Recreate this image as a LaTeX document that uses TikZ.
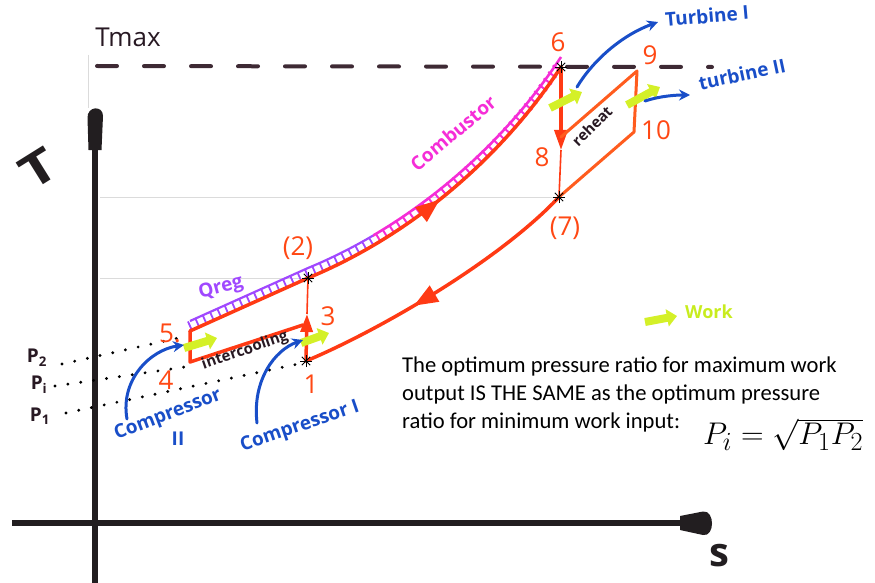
\documentclass[tikz,border=0pt]{standalone}
\usepackage{fontspec}
\newfontfamily\carlito{Carlito}
\newfontfamily\hand{Open Sans}
\usetikzlibrary{arrows.meta,decorations.markings,decorations.pathreplacing}
\definecolor{redline}{RGB}{255,58,20}
\definecolor{orline}{RGB}{255,92,30}
\definecolor{numcol}{RGB}{255,72,20}
\definecolor{axiscol}{RGB}{34,30,32}
\definecolor{dashcol}{RGB}{62,42,52}
\definecolor{bluec}{RGB}{25,78,200}
\definecolor{violetc}{RGB}{160,72,255}
\definecolor{magc}{RGB}{245,45,215}
\definecolor{workc}{RGB}{212,240,40}
\definecolor{worktext}{RGB}{200,236,30}
\definecolor{inkc}{RGB}{40,25,35}
\begin{document}
\begin{tikzpicture}[x=1pt,y=-1pt,
  mainline/.style={draw=redline, line width=3.5pt, line cap=round, line join=round},
  thinline/.style={draw=redline, line width=1.6pt},
  orangeline/.style={draw=orline, line width=3pt, line cap=round, line join=round},
  numlabel/.style={text=numcol, font=\hand\fontsize{26}{26}\selectfont, inner sep=0pt},
  bluearrow/.style={draw=bluec, line width=3pt, line cap=round, -{Stealth[length=11pt,width=11pt]}},
  bluetext/.style={text=bluec, font=\hand\bfseries\fontsize{19}{19}\selectfont, inner sep=0pt},
  workarrow/.style={draw=workc, line width=8pt, -{Triangle[length=10pt,width=17pt]}},
  dotline/.style={draw=black, line width=3.2pt, line cap=round, dash pattern=on 0pt off 13pt},
  inktext/.style={text=inkc, font=\hand\bfseries\fontsize{15}{15}\selectfont, inner sep=0pt},
  axisline/.style={draw=axiscol, line width=6.5pt},
  faint/.style={draw=black!14, line width=1pt},
  plabel/.style={text=inkc, font=\hand\bfseries\fontsize{19}{19}\selectfont, inner sep=0pt},
  bodytext/.style={font=\carlito\fontsize{22.6}{26}\selectfont, anchor=base west, inner sep=0pt},
  midarrow/.style={postaction={decorate}, decoration={markings, mark=at position #1 with {\arrow{Triangle[length=24pt,width=18pt]}}}}
]
\useasboundingbox (0,0) rectangle (875,583);

% faint paper marks
\draw[faint] (88,55) -- (88,108);
\draw[faint] (100,197) -- (555,197);
\draw[faint] (100,278) -- (300,278);

% state points
\coordinate (p1) at (306,361);
\coordinate (q1) at (307,314);
\coordinate (p2) at (308,278);
\coordinate (p3) at (303,325);
\coordinate (p4) at (190,362);
\coordinate (p5) at (190,331);
\coordinate (p6) at (561,67);
\coordinate (q6) at (561,150);
\coordinate (p8) at (561,137);
\coordinate (p7) at (559,197);
\coordinate (p9) at (637,71);
\coordinate (p10) at (634,132);

% axes
\draw[axisline] (95,583) -- (95,140);
\fill[axiscol] (88.5,150) -- (87.5,118) .. controls (87,106) and (103,105) .. (103,116) -- (101.5,150) -- cycle;
\draw[axisline] (12,523) -- (690,523);
\fill[axiscol] (680,516) -- (703,511.5) .. controls (715,510) and (715,537) .. (703,535) -- (680,530) -- cycle;

% Tmax dashed line
\draw[dashcol, line width=4pt, line cap=round, dash pattern=on 20pt off 27pt] (97,66) -- (712,67);

% pressure dotted lines
\draw[dotline] (62,364) -- (183,337);
\draw[dotline] (55,386) -- (185,367);
\draw[dotline] (66,413) -- (298,364);

% hatching: Qreg (violet) and combustor (magenta)
\begin{scope}
\clip (0,0) rectangle (373,583);
\draw[violetc, line width=2.2pt, shift={(0,-10)}] (190,331) -- (308,278) .. controls (405,238) and (498,163) .. (561,67);
\draw[violetc, line width=1.8pt, shift={(0,-5)}, decorate, decoration={ticks, segment length=8pt, amplitude=5pt}] (190,331) -- (308,278) .. controls (405,238) and (498,163) .. (561,67);
\end{scope}
\begin{scope}
\clip (373,0) rectangle (875,583);
\draw[magc, line width=2.6pt, shift={(0,-10)}] (190,331) -- (308,278) .. controls (405,238) and (498,163) .. (561,67);
\draw[magc, line width=2pt, shift={(0,-5)}, decorate, decoration={ticks, segment length=8pt, amplitude=5pt}] (190,331) -- (308,278) .. controls (405,238) and (498,163) .. (561,67);
\end{scope}

% cycle lines
\draw[mainline] (p5) -- (p2);
\draw[mainline, midarrow=0.46] (p2) .. controls (405,238) and (498,163) .. (p6);
\draw[mainline, -{Triangle[length=20pt,width=13pt]}] (p6) -- (q6);
\draw[thinline] (q6) -- (p7);
\draw[orangeline] (p8) -- (p9) -- (p10) -- (p7);
\draw[mainline, midarrow=0.6] (p7) .. controls (500,260) and (380,330) .. (p1);
\draw[mainline, -{Triangle[length=18pt,width=12pt]}] (p1) -- (q1);
\draw[thinline] (q1) -- (p2);
\draw[mainline] (p3) -- (p4) -- (p5);

% state markers
\foreach \p in {p6,p2,p1,p7} {
  \foreach \a in {0,45,90,135}
    \draw[black, line width=0.9pt] (\p) ++(\a:6) -- ++(\a+180:12);
}

% work arrows
\draw[workarrow] (550,108) -- (582,92);
\draw[workarrow] (627,105) -- (660,87);
\draw[workarrow] (184,348) -- (217,338);
\draw[workarrow] (301,343) -- (329,333);
\draw[workarrow] (645,322) -- (677,316);
\node[text=worktext, font=\hand\bfseries\fontsize{18}{18}\selectfont, inner sep=0pt] (lwork) at (709,312) {Work};

% blue arrows and labels
\draw[bluearrow] (577,87) .. controls (592,62) and (620,36) .. (658,22);
\node[bluetext, rotate=5] (lt1) at (707,16) {Turbine I};
\draw[bluearrow] (645,101) .. controls (660,96) and (676,95) .. (690,95);
\node[bluetext, rotate=12] (lt2) at (742,74) {turbine II};
\draw[bluearrow] (127,419) .. controls (120,380) and (150,350) .. (184,345);
\node[bluetext, rotate=21] (lc2) at (168,415) {Compressor};
\node[bluetext] (lc2b) at (178,439) {II};
\draw[bluearrow] (257,423) .. controls (252,380) and (275,350) .. (303,340);
\node[bluetext, rotate=19] (lc1) at (300,427) {Compressor I};

% process labels
\node[text=violetc, font=\hand\bfseries\fontsize{19}{19}\selectfont, rotate=15, inner sep=0pt] (lqreg) at (221,288) {Qreg};
\node[text=magc, font=\hand\bfseries\fontsize{19}{19}\selectfont, rotate=40, inner sep=0pt] (lcomb) at (453,133) {Combustor};
\node[inktext, rotate=45] (lreheat) at (592,126) {reheat};
\node[inktext, rotate=19] (linter) at (245,351) {intercooling};
\node[text=inkc, font=\hand\fontsize{26}{26}\selectfont, inner sep=0pt] (ltmax) at (128,37) {Tmax};

% point labels
\node[numlabel] (l6) at (558,42) {6};
\node[numlabel] (l9) at (650,55) {9};
\node[numlabel] (l10) at (656,130) {10};
\node[numlabel] (l8) at (542,157) {8};
\node[numlabel] (l7) at (565,228) {(7)};
\node[numlabel] (l2) at (298,248) {(2)};
\node[numlabel] (l3) at (328,316) {3};
\node[numlabel] (l1) at (311,384) {1};
\node[numlabel] (l4) at (166,380) {4};
\node[numlabel] (l5) at (170,333) {5.};

% pressure labels
\node[plabel] (lp2) at (37,358) {P\textsubscript{2}};
\node[plabel] (lpi) at (39,385) {P\textsubscript{i}};
\node[plabel] (lp1) at (40,416) {P\textsubscript{1}};

% axis labels
\node[text=axiscol, font=\hand\bfseries\fontsize{46}{46}\selectfont, rotate=32, xscale=1.3, inner sep=0pt] (lT) at (38,168) {T};
\node[text=axiscol, font=\hand\bfseries\fontsize{40}{40}\selectfont, inner sep=0pt] (ls) at (719,556) {s};

% explanatory text
\node[bodytext] (t1) at (402,372) {The optimum pressure ratio for maximum work};
\node[bodytext] (t2) at (402,400) {output IS THE SAME as the optimum pressure};
\node[bodytext] (t3) at (402,428) {ratio for minimum work input:};
\node[anchor=base west, inner sep=0pt, font=\fontsize{24.88}{26}\selectfont] (formula) at (703,444) {\scalebox{1.26}{$P_i = \sqrt{P_1 P_2}$}};
\end{tikzpicture}
\end{document}
